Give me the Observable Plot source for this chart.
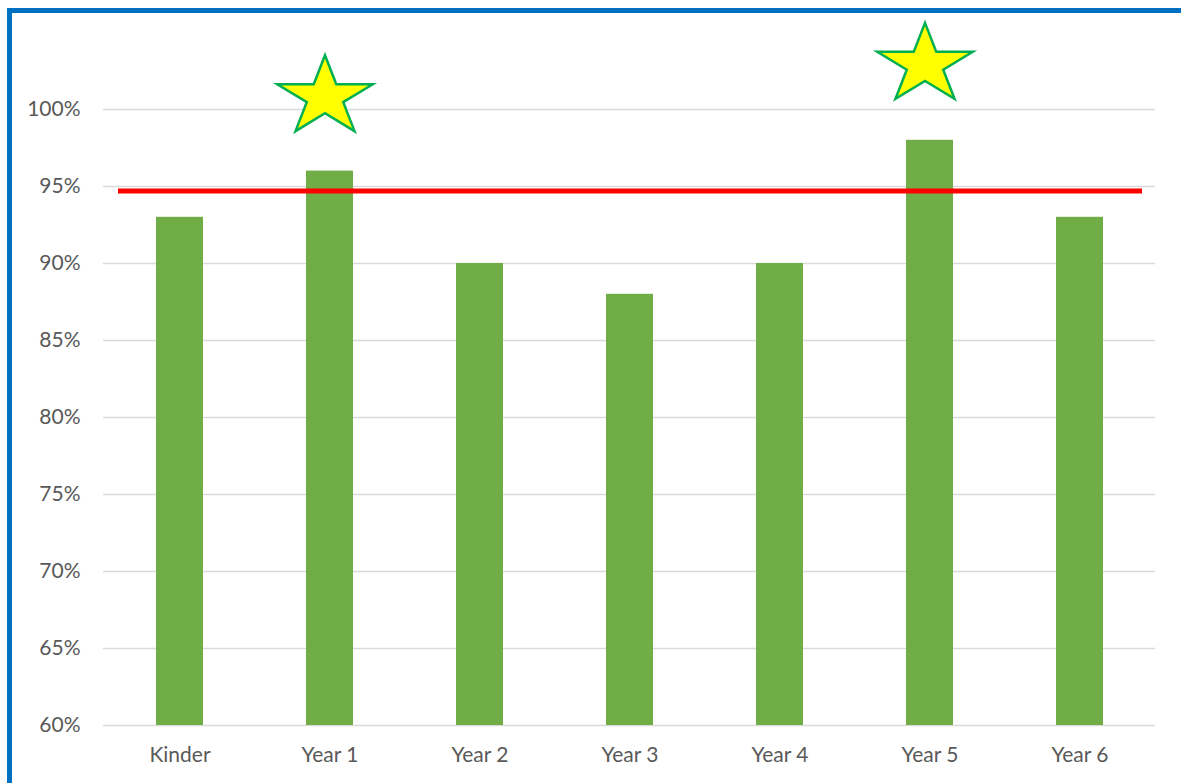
<!DOCTYPE html>
<html>
<head>
<meta charset="utf-8">
<script src="https://cdn.jsdelivr.net/npm/d3@7"></script>
<script src="https://cdn.jsdelivr.net/npm/@observablehq/plot@0.6"></script>
<style>
  html, body { margin: 0; padding: 0; background: #fff; overflow: hidden; }
  #wrap { position: relative; width: 1181px; height: 783px; overflow: hidden; }
  #border { position: absolute; left: 7px; top: 8px; width: 1400px; height: 1000px;
            border: 5px solid #0070C0; box-sizing: border-box; pointer-events: none; }
  #chart { position: absolute; left: 0; top: 0; }
</style>
</head>
<body>
<div id="wrap">
  <div id="chart"></div>
  <div id="border"></div>
</div>
<script>
const categories = ["Kinder", "Year 1", "Year 2", "Year 3", "Year 4", "Year 5", "Year 6"];
const values = [93, 96, 90, 88, 90, 98, 93];
const target = [94.7];
const yTicks = [60, 65, 70, 75, 80, 85, 90, 95, 100];
const starCategories = ["Year 1", "Year 5"];
const starValues = [100.8, 102.9];

const bars = categories.map((c, i) => ({cat: c, v: values[i]}));
const stars = starCategories.map((c, i) => ({cat: c, v: starValues[i]}));

// Stretched five-point star (as drawn in the spreadsheet shape)
const starSymbol = {
  draw(context, size) {
    const R = Math.sqrt(size / Math.PI);
    const sx = R * 1.195, sy = R;
    for (let k = 0; k < 10; k++) {
      const a = -Math.PI / 2 + k * Math.PI / 5;
      const rr = k % 2 === 0 ? 1 : 0.382;
      const px = Math.cos(a) * rr * sx, py = Math.sin(a) * rr * sy;
      if (k === 0) context.moveTo(px, py); else context.lineTo(px, py);
    }
    context.closePath();
  }
};

const font = "Lato, 'Open Sans', sans-serif";

const chart = Plot.plot({
  width: 1181,
  height: 783,
  marginLeft: 103,
  marginRight: 26,
  marginTop: 32,
  marginBottom: 58,
  style: {fontFamily: font, fontSize: "21px", color: "#595959", background: "transparent"},
  x: {domain: categories, paddingInner: 0.687, paddingOuter: 0.3435, label: null},
  y: {domain: [60, 105], label: null},
  marks: [
    Plot.ruleY(yTicks, {stroke: "#d9d9d9", strokeWidth: 1.5}),
    Plot.barY(bars, {x: "cat", y1: 60, y2: "v", fill: "#70AD47"}),
    Plot.ruleY(target, {stroke: "#FF0000", strokeWidth: 5, insetLeft: 15, insetRight: 13}),
    Plot.dot(stars, {x: "cat", y: "v", r: 42, dx: -5, symbol: starSymbol, fill: "#FFFF00", stroke: "#00B050", strokeWidth: 2.5}),
    Plot.axisY({ticks: yTicks, tickFormat: d => d + "%", tickSize: 0, tickPadding: 23, fill: "#595959", fontSize: 21}),
    Plot.axisX({tickSize: 0, tickPadding: 22, fill: "#595959", fontSize: 21})
  ]
});
document.getElementById("chart").appendChild(chart);
</script>
</body>
</html>
